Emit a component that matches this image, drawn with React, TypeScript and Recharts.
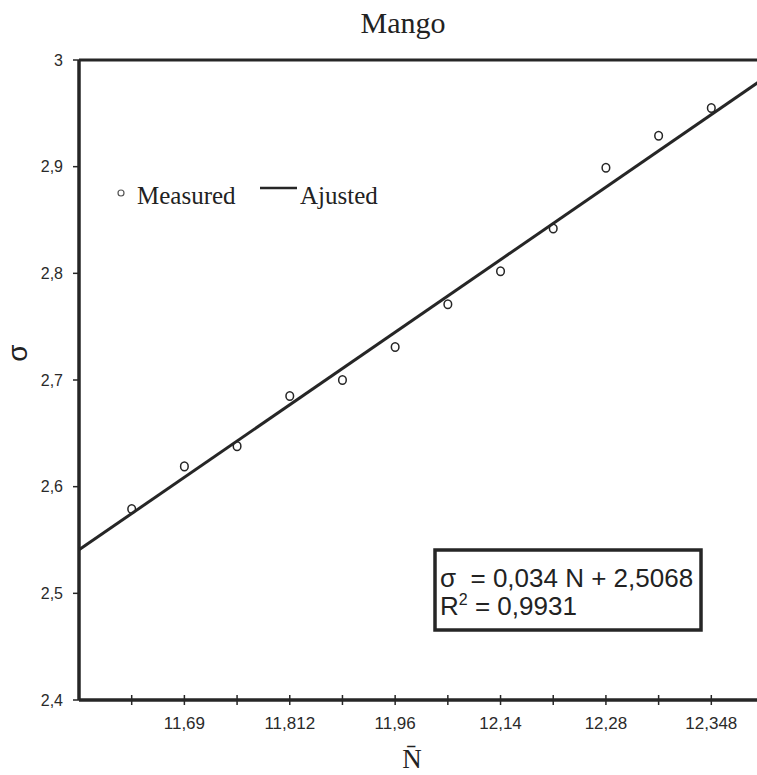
import React from "react";
import {
  ComposedChart,
  ReferenceLine,
  Scatter,
  XAxis,
  YAxis
} from "recharts";

// measured points, one per category position on the x axis
const positions = [1, 2, 3, 4, 5, 6, 7, 8, 9, 10, 11, 12];
const measured = [2.579, 2.619, 2.638, 2.685, 2.7, 2.731, 2.771, 2.802, 2.842, 2.899, 2.929, 2.955];

// category labels, only every second one is printed
const xTickLabels = ["", "11,69", "", "11,812", "", "11,96", "", "12,14", "", "12,28", "", "12,348"];
const yTicks = [2.4, 2.5, 2.6, 2.7, 2.8, 2.9, 3];

// adjusted line: sigma = 0,034 N + 2,5068, N counted from 1 at the value axis
const slope = 0.034;
const intercept = 2.5068;
const xDomain = [0, 13];

const INK = "#262626";
const SANS = "'Liberation Sans', Arial, sans-serif";
const SERIF = "'Liberation Serif', 'Times New Roman', serif";

const measuredData = positions.map((pos, i) => ({ pos, sigma: measured[i] }));
const adjustedData = xDomain.map((pos) => ({ pos, sigma: slope * (pos + 1) + intercept }));

const formatComma = (v: number) => String(v).replace(".", ",");

function XTick({ x, y, payload }: { x?: number; y?: number; payload?: { value: number } }) {
  const label = xTickLabels[(payload?.value ?? 1) - 1] ?? "";
  return (
    <g>
      <line x1={x} x2={x} y1={(y ?? 0) - 5} y2={(y ?? 0) + 5} stroke={INK} strokeWidth={1.5} />
      <text x={x} y={(y ?? 0) + 29} textAnchor="middle" fill="#2a2a2a" fontSize={17} fontFamily={SANS}>
        {label}
      </text>
    </g>
  );
}

function OpenCircle({ cx, cy }: { cx?: number; cy?: number }) {
  return <ellipse cx={cx} cy={cy} rx={3.8} ry={4.3} fill="#fff" stroke={INK} strokeWidth={1.5} />;
}

export default function App() {
  return (
    <div style={{ position: "absolute", left: 0, top: 0, width: 757, height: 775, overflow: "hidden", background: "#fff" }}>
      <ComposedChart width={800} height={775} margin={{ top: 60, right: 36, bottom: 0, left: 0 }}>
        <XAxis
          type="number"
          dataKey="pos"
          domain={xDomain}
          ticks={positions}
          interval={0}
          height={75}
          tickSize={0}
          tickMargin={0}
          tickLine={false}
          axisLine={{ stroke: INK, strokeWidth: 3.5 }}
          tick={<XTick />}
        />
        <YAxis
          type="number"
          dataKey="sigma"
          domain={[2.4, 3]}
          ticks={yTicks}
          interval={0}
          width={79}
          tickSize={6}
          tickMargin={10}
          tickFormatter={formatComma}
          axisLine={{ stroke: INK, strokeWidth: 3.5 }}
          tickLine={{ stroke: INK, strokeWidth: 1.5 }}
          tick={{ fill: "#2a2a2a", fontSize: 16, fontFamily: SANS }}
        />
        <ReferenceLine y={3} stroke={INK} strokeWidth={3} />
        <ReferenceLine x={13} stroke={INK} strokeWidth={3} />
        <Scatter data={measuredData} shape={<OpenCircle />} isAnimationActive={false} />
        <Scatter
          data={adjustedData}
          line={{ stroke: INK, strokeWidth: 3 }}
          shape={() => <g />}
          isAnimationActive={false}
        />
      </ComposedChart>

      <svg width={757} height={775} style={{ position: "absolute", left: 0, top: 0, pointerEvents: "none" }}>
        <text x={403} y={33} textAnchor="middle" fontSize={30} fontFamily={SERIF} fill="#222">
          Mango
        </text>

        {/* legend */}
        <circle cx={121} cy={193} r={3} fill="none" stroke="#555" strokeWidth={1.2} />
        <text x={137} y={204} fontSize={25} fontFamily={SERIF} fill="#222">
          Measured
        </text>
        <line x1={260} x2={297} y1={188} y2={188} stroke={INK} strokeWidth={2.5} />
        <text x={300} y={204} fontSize={25} fontFamily={SERIF} fill="#222">
          Ajusted
        </text>

        {/* equation box */}
        <rect x={435} y={550} width={266} height={80} fill="#fff" stroke={INK} strokeWidth={3.5} />
        <text x={440} y={587} fontSize={26} fontFamily={SANS} fill="#222">
          σ{"\u00a0"} = 0,034 N + 2,5068
        </text>
        <text x={440} y={615} fontSize={26} fontFamily={SANS} fill="#222">
          <tspan>R</tspan>
          <tspan dy={-10} fontSize={16}>2</tspan>
          <tspan dy={10}> = 0,9931</tspan>
        </text>

        {/* axis titles */}
        <text transform="translate(27,353) rotate(-90)" textAnchor="middle" fontSize={28} fontFamily={SANS} fill="#222">
          σ
        </text>
        <text x={412} y={768} textAnchor="middle" fontSize={27} fontFamily={SERIF} fill="#222">
          {"N\u0304"}
        </text>
      </svg>
    </div>
  );
}
